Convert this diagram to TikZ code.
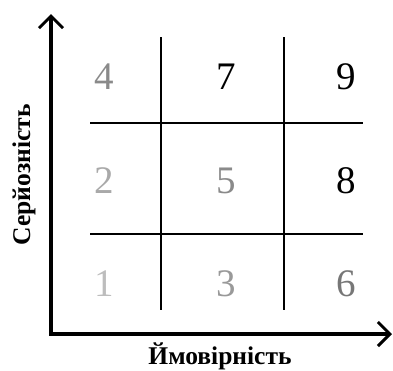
\documentclass[tikz,border=0pt]{standalone}
\usepackage{fontspec}
\setmainfont{Liberation Serif}
\usepackage{xcolor}
\usetikzlibrary{arrows.meta,positioning}

\definecolor{shadeA}{HTML}{BDBDBD}
\definecolor{shadeB}{HTML}{A9A9A9}
\definecolor{shadeC}{HTML}{999999}
\definecolor{shadeD}{HTML}{8A8A8A}
\definecolor{shadeE}{HTML}{777777}

\begin{document}
\begin{tikzpicture}[x=1pt, y=-1pt]
  \tikzstyle{axis}=[line width=3.2pt, {Straight Barb[length=12pt, width=24pt, line width=3pt]}-{Straight Barb[length=12pt, width=24pt, line width=3pt]}]
  \tikzstyle{grid}=[line width=2pt]
  \tikzstyle{cell}=[font=\fontsize{39}{39}\selectfont, inner sep=0pt]
  \tikzstyle{title}=[font=\fontsize{25.5}{25.5}\selectfont\bfseries, inner sep=0pt]
  \useasboundingbox (0,0) rectangle (393,370);
  % axes
  \coordinate (top) at (51,14);
  \coordinate (origin) at (51,334);
  \coordinate (right) at (392,334);
  \draw[axis] (top) -- (origin) -- (right);
  % grid
  \coordinate (v1a) at (161,37);  \coordinate (v1b) at (161,310);
  \coordinate (v2a) at (284,37);  \coordinate (v2b) at (284,310);
  \coordinate (h1a) at (90,123);  \coordinate (h1b) at (363,123);
  \coordinate (h2a) at (90,234);  \coordinate (h2b) at (363,234);
  \draw[grid] (v1a) -- (v1b);
  \draw[grid] (v2a) -- (v2b);
  \draw[grid] (h1a) -- (h1b);
  \draw[grid] (h2a) -- (h2b);
  % cells
  \node[cell, text=shadeD] (n4) at (104,77) {4};
  \node[cell] (n7) at (226,77) {7};
  \node[cell] (n9) at (346,77) {9};
  \node[cell, text=shadeB] (n2) at (104,181) {2};
  \node[cell, text=shadeD] (n5) at (226,181) {5};
  \node[cell] (n8) at (346,181) {8};
  \node[cell, text=shadeA] (n1) at (104,284) {1};
  \node[cell, text=shadeC] (n3) at (226,284) {3};
  \node[cell, text=shadeE] (n6) at (346,284) {6};
  % labels
  \node[title, rotate=90] (sev) at (24,175) {Серйозність};
  \node[title] (prob) at (220,356) {Ймовірність};
\end{tikzpicture}
\end{document}
